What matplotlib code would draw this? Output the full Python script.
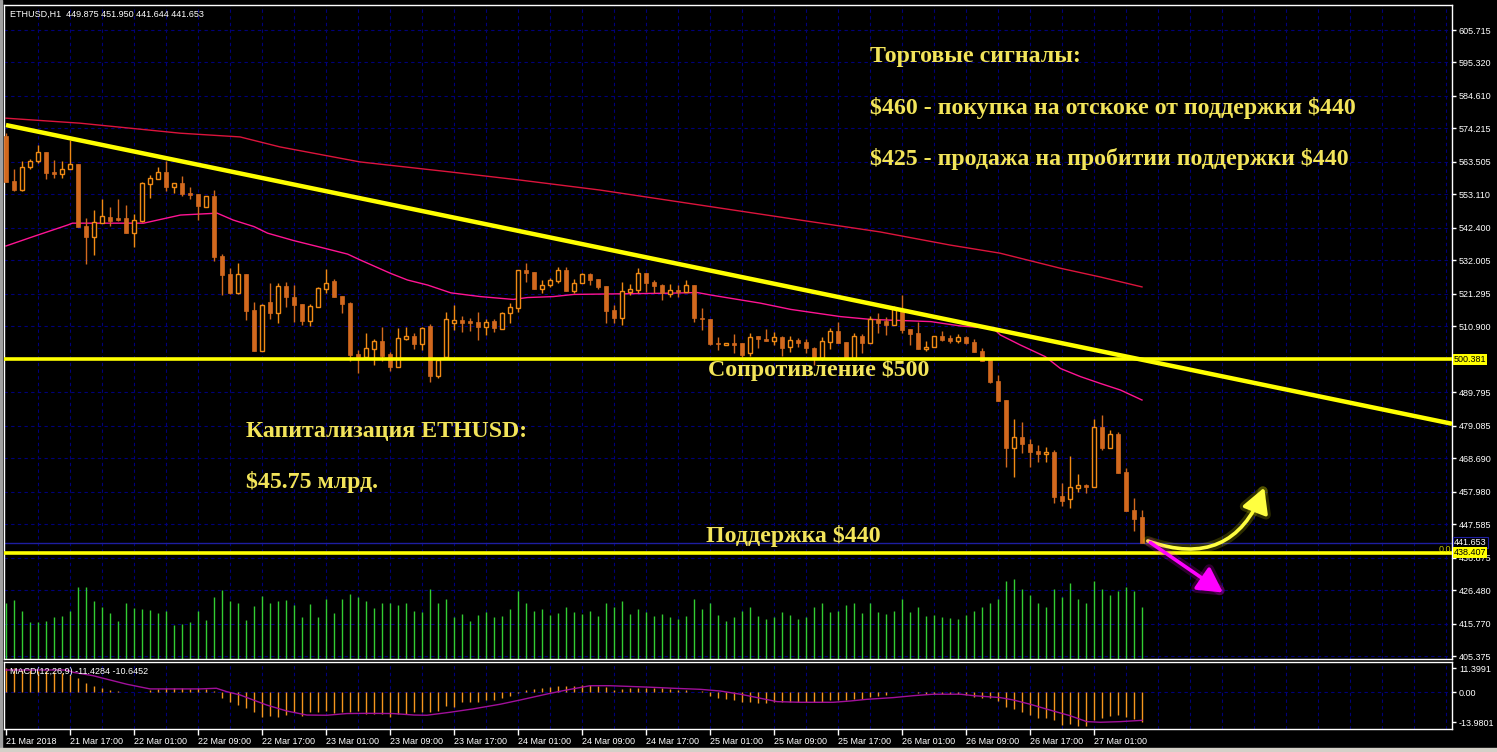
import matplotlib
matplotlib.use("Agg")
import matplotlib.pyplot as plt
import matplotlib.patheffects as pe
import numpy as np
import pandas as pd

# ---- data (ETHUSD H1, 21 Mar 09:00 .. 27 Mar 07:00) ----
opens = [571.8, 557.5, 554.5, 561.8, 563.9, 566.6, 560.3, 559.7, 561.3, 562.8,
         543.0, 539.6, 544.0, 545.9, 545.6, 545.6, 540.8, 544.7, 556.5, 558.1,
         560.2, 555.6, 556.7, 553.5, 553.2, 549.2, 552.6, 533.4, 527.6, 521.6,
         527.6, 516.1, 503.1, 518.7, 515.2, 523.8, 520.3, 518.0, 512.7, 517.2,
         522.9, 525.3, 520.6, 518.3, 502.0, 501.2, 503.7, 506.2, 502.0, 497.9,
         506.8, 507.7, 505.2, 511.0, 495.0, 501.2, 512.1, 512.9, 512.3, 512.3,
         510.8, 512.6, 510.1, 515.0, 516.9, 528.9, 528.3, 522.9, 524.2, 525.5,
         528.8, 522.3, 524.9, 527.5, 525.9, 523.8, 516.1, 513.6, 521.9, 522.5,
         527.9, 525.1, 524.0, 521.2, 522.5, 521.9, 524.1, 513.5, 513.2, 505.4,
         505.0, 505.4, 505.4, 502.2, 507.8, 506.7, 506.3, 507.4, 504.4, 506.5,
         505.9, 503.9, 500.6, 506.0, 509.5, 505.9, 500.6, 507.8, 505.6, 513.1,
         512.5, 511.3, 516.1, 509.9, 508.6, 503.5, 504.2, 507.8, 507.1, 506.3,
         507.4, 505.9, 503.1, 500.1, 493.4, 487.3, 472.1, 475.4, 473.2, 470.9,
         469.9, 470.8, 456.6, 455.5, 459.2, 460.0, 459.6, 478.6, 471.9, 476.3,
         464.2, 452.1, 449.875]
highs = [572.7, 561.2, 563.8, 564.3, 568.9, 566.6, 564.1, 563.8, 570.5, 562.8,
         545.5, 548.1, 551.6, 549.1, 551.6, 549.7, 546.8, 557.1, 559.3, 561.8,
         563.9, 556.7, 559.0, 555.4, 553.2, 552.5, 554.5, 534.0, 529.5, 531.2,
         527.6, 518.7, 517.9, 524.8, 524.7, 525.1, 524.1, 518.0, 518.0, 523.6,
         529.1, 525.9, 520.6, 518.6, 503.3, 508.7, 506.8, 510.6, 502.8, 510.4,
         510.6, 508.8, 510.8, 511.6, 500.3, 515.5, 517.7, 514.2, 513.6, 515.5,
         513.1, 513.2, 515.5, 518.2, 528.8, 531.1, 528.3, 525.7, 526.4, 529.8,
         529.8, 525.9, 528.0, 528.0, 525.9, 523.8, 517.7, 525.1, 524.4, 529.5,
         527.9, 525.7, 524.4, 524.4, 524.1, 525.7, 524.1, 516.7, 513.2, 507.4,
         505.6, 508.4, 505.6, 508.8, 507.8, 509.9, 509.1, 507.8, 507.8, 507.1,
         506.7, 504.4, 507.4, 510.2, 512.4, 505.9, 508.8, 508.4, 514.1, 515.0,
         514.0, 517.4, 520.9, 509.9, 512.4, 506.3, 507.8, 509.5, 508.1, 508.4,
         507.8, 506.9, 503.9, 500.6, 495.3, 487.3, 481.1, 480.2, 474.7, 472.9,
         472.2, 471.3, 460.7, 469.4, 463.6, 460.4, 481.1, 482.5, 477.7, 477.2,
         465.5, 455.9, 451.950]
lows = [557.1, 554.3, 554.3, 561.1, 563.2, 558.1, 558.3, 558.3, 561.3, 542.6,
        530.8, 533.7, 543.9, 543.0, 544.7, 540.8, 536.4, 544.4, 552.0, 558.1,
        554.3, 553.6, 552.6, 551.5, 544.9, 549.2, 531.9, 521.0, 521.2, 521.2,
        512.9, 503.1, 502.9, 513.3, 511.9, 517.2, 512.4, 511.4, 511.0, 517.2,
        521.6, 520.2, 515.3, 499.9, 495.9, 501.2, 498.5, 499.9, 496.7, 497.9,
        506.5, 503.7, 503.3, 493.1, 494.3, 501.0, 509.7, 509.1, 509.3, 506.5,
        508.0, 509.1, 510.1, 512.1, 515.6, 525.1, 522.9, 521.6, 523.4, 524.7,
        522.3, 521.5, 524.6, 524.2, 522.9, 512.0, 512.0, 511.4, 520.8, 521.5,
        521.9, 521.5, 519.3, 520.2, 520.4, 521.9, 512.4, 509.7, 504.9, 503.3,
        504.8, 502.2, 501.2, 501.4, 503.9, 506.3, 504.9, 501.4, 502.8, 504.4,
        502.2, 498.5, 500.1, 503.5, 505.6, 500.3, 500.1, 502.4, 505.6, 508.8,
        508.1, 511.3, 508.6, 504.9, 503.5, 503.1, 504.2, 506.3, 505.6, 505.6,
        505.2, 502.8, 499.9, 492.7, 487.1, 466.0, 462.6, 470.4, 465.8, 467.5,
        467.5, 454.3, 453.4, 452.7, 457.9, 457.6, 459.4, 471.3, 471.9, 463.9,
        451.9, 445.5, 441.644]
closes = [557.1, 554.5, 561.8, 563.9, 566.6, 560.0, 559.7, 561.1, 562.8, 542.8,
          539.6, 544.2, 546.1, 544.7, 544.9, 540.8, 544.8, 556.7, 558.2, 560.2,
          555.6, 556.7, 553.2, 552.9, 549.4, 552.5, 533.2, 527.4, 521.6, 527.6,
          515.9, 503.1, 517.7, 515.2, 523.8, 520.4, 517.8, 512.7, 517.3, 523.1,
          524.7, 520.4, 518.0, 501.7, 501.2, 503.9, 506.2, 501.5, 497.9, 507.1,
          507.7, 505.2, 510.3, 495.0, 500.1, 513.1, 512.8, 511.9, 512.1, 510.8,
          512.3, 510.3, 515.0, 517.1, 528.8, 528.0, 522.9, 524.1, 525.6, 528.8,
          522.3, 524.7, 527.6, 525.7, 523.6, 515.8, 513.6, 522.1, 522.7, 527.9,
          524.9, 523.8, 521.5, 522.5, 521.9, 524.1, 513.5, 513.1, 505.2, 505.1,
          505.4, 505.0, 501.7, 507.6, 506.7, 506.3, 507.4, 503.9, 506.5, 505.6,
          503.9, 500.3, 506.3, 509.5, 505.6, 500.6, 507.8, 505.6, 513.1, 512.0,
          511.4, 516.7, 509.7, 508.4, 503.5, 504.2, 507.8, 506.5, 506.3, 507.4,
          505.6, 502.8, 499.9, 493.2, 487.1, 472.1, 475.4, 473.1, 470.8, 469.9,
          470.8, 456.4, 455.1, 459.6, 460.0, 459.6, 478.6, 471.9, 476.3, 464.1,
          451.9, 449.3, 441.653]

# tick volume (relative units)
volumes = [560, 590, 480, 370, 370, 380, 420, 430, 480, 720,
           720, 580, 520, 460, 380, 560, 510, 500, 490, 460,
           480, 340, 350, 370, 480, 390, 620, 690, 580, 560,
           390, 530, 630, 560, 580, 590, 540, 420, 550, 420,
           600, 460, 600, 650, 620, 580, 510, 560, 560, 540,
           560, 480, 470, 700, 560, 600, 420, 450, 380, 440,
           470, 420, 430, 500, 680, 560, 480, 500, 440, 460,
           520, 470, 450, 480, 430, 560, 520, 580, 450, 500,
           470, 430, 450, 420, 400, 430, 600, 500, 560, 440,
           380, 420, 480, 520, 430, 400, 420, 470, 440, 400,
           420, 520, 560, 470, 480, 540, 560, 460, 560, 470,
           450, 480, 600, 470, 520, 430, 440, 420, 410, 400,
           440, 480, 520, 560, 600, 780, 800, 700, 640, 560,
           520, 700, 620, 760, 600, 560, 780, 700, 640, 680,
           720, 680, 520]

# MACD(12,26,9) main values (drawn as histogram)
macd_hist = [11.4, 11.3, 10.5, 10.5, 10.0, 10.0, 9.4, 8.9, 8.2, 6.9,
             4.4, 3.0, 2.0, 1.1, 0.6, 0.3, 0.3, 0.3, 1.3, 1.6,
             1.9, 1.9, 2.0, 1.6, 1.9, 1.6, 0.6, -2.5, -4.4, -6.0,
             -7.5, -9.4, -11.5, -11.0, -11.5, -10.7, -9.4, -11.0, -9.1, -9.4,
             -8.8, -9.9, -9.4, -9.1, -8.8, -10.0, -10.0, -10.4, -11.5, -10.4,
             -10.4, -9.4, -9.4, -9.1, -8.8, -6.3, -6.7, -4.7, -4.4, -4.4,
             -3.5, -3.6, -2.5, -1.6, -0.2, 1.3, 1.6, 2.2, 2.5, 3.1,
             3.0, 3.1, 3.5, 3.5, 3.1, 2.5, 1.3, 1.4, 1.9, 2.2,
             2.2, 2.2, 1.9, 1.6, 1.3, 1.3, 0.3, 0.6, -1.6, -2.5,
             -3.3, -3.8, -4.4, -4.7, -4.9, -4.9, -4.4, -4.4, -4.4, -4.4,
             -4.4, -4.4, -4.4, -3.5, -3.5, -3.8, -3.3, -3.1, -2.0, -1.6,
             -1.3, 0.0, 0.3, 0.3, -0.3, -0.9, -0.9, -0.6, -0.9, -0.9,
             -1.3, -2.2, -2.8, -2.8, -4.1, -6.7, -8.0, -9.4, -10.7, -11.9,
             -12.2, -13.0, -15.4, -15.1, -15.7, -15.7, -13.2, -11.9, -11.0, -10.7,
             -11.6, -12.5, -13.8]

# MACD signal line, sampled (bar index, value)
signal_idx = [0, 7.6, 8.4, 10.9, 13, 15.1, 16.8, 18, 24.3, 26.3, 27.6, 29.3, 30.9,
              32.6, 35.1, 37.6, 40.1, 42.6, 45.1, 48.4, 51, 52.6, 55.5, 58.4,
              61.8, 64.3, 68, 70.1, 73, 75.5, 78.4, 80.5, 83.4, 86.8, 89.3, 91.8,
              94.3, 96.4, 99.3, 103.4, 105.5, 107.6, 110.9, 113.4, 115.9, 119.3,
              121, 124.3, 125.9, 128, 130.9, 133, 135.1, 136.8, 139.3, 142]
signal_val = [10.5, 10.5, 9.4, 7.8, 5.8, 3.8, 2.5, 1.6, 1.6, 1.9, 0.3, -1.3, -3.6,
              -6.0, -8.8, -10.7, -10.8, -10.0, -9.9, -10.0, -10.7, -10.8, -9.4, -7.8,
              -5.6, -3.6, -0.5, 1.1, 3.1, 3.1, 2.7, 2.4, 1.9, 1.4, 0.6, -0.9,
              -2.8, -4.4, -4.7, -4.7, -4.1, -3.3, -2.5, -1.6, -0.9, -0.9,
              -1.6, -2.5, -3.6, -5.6, -8.8, -11.0, -13.8, -14.1, -13.8, -13.2]

# slow moving average (red), sampled
ma_slow_idx = [0, 9.25, 21.75, 29.25, 34.25, 44.25, 55.5, 64.25, 74.25, 86.75,
               99.25, 109.25, 118, 124.25, 131.75, 136.75, 142]
ma_slow_val = [577.5, 575.9, 572.7, 571.5, 568.3, 563.5, 560.3, 557.7, 554.5, 549.7,
               544.9, 541.1, 536.9, 534.3, 529.5, 526.7, 523.5]

# fast moving average (pink), sampled
ma_fast_idx = [0, 3.4, 7.7, 8.3, 17.2, 21.8, 26.4, 28.4, 31, 32.7, 36, 39.3, 42.7,
               44.3, 48.1, 50.2, 52.7, 55.6, 59.3, 63.4, 65.2, 68.4, 71, 83.1, 86.4,
               88.1, 94.3, 98.1, 104.3, 108.1, 115.6, 119.3, 123.4, 124.3, 126.8,
               129.9, 131.8, 134.3, 136.8, 139.3, 142]
ma_fast_val = [536.6, 539.6, 543.3, 543.9, 543.9, 546.5, 547.1, 544.9, 542.8, 540.7,
               538.3, 536.2, 534.0, 532.1, 527.8, 525.7, 524.1, 521.6, 520.4, 519.5,
               520.1, 520.4, 521.1, 521.5, 521.7, 520.9, 518.3, 516.3, 514.0, 513.1,
               512.4, 511.0, 510.2, 508.1, 504.9, 501.2, 497.4, 494.8, 492.6, 490.5,
               487.3]

trend_idx = [0, 180.75]
trend_val = [575.3, 479.7]
resistance = 500.381
support = 438.407
bid = 441.653

price_ticks = [605.715, 595.320, 584.610, 574.215, 563.505, 553.110, 542.400,
               532.005, 521.295, 510.900, 489.795, 479.085, 468.690, 457.980,
               447.585, 436.875, 426.480, 415.770, 405.375]
macd_ticks = [11.3991, 0.0, -13.9801]

times = pd.date_range("2018-03-21 09:00", periods=len(closes), freq="h")

BG = "black"
FG = "white"
GRID = "#00007A"
UP = "#F08A14"
DOWN = "#D2691E"
TXT_Y = "#F2E45A"
SMALL = dict(family="Liberation Sans", size=6.5, color=FG)

fig = plt.figure(figsize=(14.97, 7.52), dpi=100, facecolor=BG)
ax = fig.add_axes([4 / 1497, 1 - 659 / 752, 1448 / 1497, 654 / 752], facecolor=BG)
axm = fig.add_axes([4 / 1497, 1 - 729 / 752, 1448 / 1497, 67 / 752], facecolor=BG)

n = len(closes)
idx = np.arange(n)
xlim = (-0.25, 180.75)

for a in (ax, axm):
    a.set_xlim(*xlim)
    for s in a.spines.values():
        s.set_color(FG)
        s.set_linewidth(1)
    for gx in range(4, 181, 4):
        a.axvline(gx, color=GRID, lw=0.8, ls=(0, (3, 3)), zorder=0)

# main panel
ax.set_ylim(404.42, 613.72)
for p in price_ticks:
    ax.axhline(p, color=GRID, lw=0.8, ls=(0, (3, 3)), zorder=0)

vol_tr = ax.get_xaxis_transform()
ax.vlines(idx, 0, np.array(volumes) / 6540, transform=vol_tr, color="#32CD32", lw=1, zorder=1)

ax.plot(ma_slow_idx, ma_slow_val, color="#DC143C", lw=1, zorder=2)
ax.plot(ma_fast_idx, ma_fast_val, color="#FF1493", lw=1, zorder=2)

o = np.array(opens)
c = np.array(closes)
up = c >= o
ax.vlines(idx[up], np.array(lows)[up], np.array(highs)[up], color=UP, lw=1, zorder=3)
ax.vlines(idx[~up], np.array(lows)[~up], np.array(highs)[~up], color=DOWN, lw=1, zorder=3)
body_lo = np.minimum(o, c)
body_h = np.maximum(np.abs(c - o), 0.35)
ax.bar(idx[up], body_h[up], bottom=body_lo[up], width=0.6, color=BG, edgecolor=UP, lw=1, zorder=4)
ax.bar(idx[~up], body_h[~up], bottom=body_lo[~up], width=0.62, color=DOWN, edgecolor=DOWN, lw=0.5, zorder=4)

ax.plot(trend_idx, trend_val, color="#FFFF00", lw=3.2, zorder=5, solid_capstyle="butt")
ax.axhline(resistance, color="#FFFF00", lw=2.6, zorder=5)
ax.axhline(support, color="#FFFF00", lw=2.6, zorder=5)
ax.axhline(bid, color="#1E1EA0", lw=1, zorder=2)

ax.yaxis.tick_right()
ax.set_yticks(price_ticks)
ax.set_yticklabels([f"{p:.3f}" for p in price_ticks], **SMALL)
ax.tick_params(axis="y", colors=FG, length=3, width=1, pad=2)
ax.set_xticks([])

ytr = ax.get_yaxis_transform()
box = dict(boxstyle="square,pad=0.12", ec="none")
ax.text(1.0013, resistance, "500.381", transform=ytr, va="center", ha="left",
        bbox=dict(fc="#FFFF00", **box), family="Liberation Sans", size=6.5, color="black", zorder=10)
ax.text(1.0013, bid, "441.653", transform=ytr, va="center", ha="left",
        bbox=dict(fc="black", boxstyle="square,pad=0.12", ec="#1E1EA0", lw=0.8),
        clip_on=False, **SMALL, zorder=10)
ax.text(1.0013, support, "438.407", transform=ytr, va="center", ha="left",
        bbox=dict(fc="#FFFF00", **box), family="Liberation Sans", size=6.5, color="black", zorder=11)
ax.text(0.9995, support + 1.2, "0.0", transform=ytr, va="center", ha="right",
        family="Liberation Sans", size=6.5, color="#C8C800")

ax.text(0.004, 0.993, "ETHUSD,H1  449.875 451.950 441.644 441.653", transform=ax.transAxes,
        va="top", ha="left", **SMALL)

title_font = dict(family="Liberation Serif", weight="bold", size=17.2, color=TXT_Y,
                  va="center", ha="left", parse_math=False)
ax.text(108, 597.1, "Торговые сигналы:", **title_font)
ax.text(108, 580.7, "$460 - покупка на отскоке от поддержки $440", **title_font)
ax.text(108, 564.4, "$425 - продажа на пробитии поддержки $440", **title_font)
ax.text(30, 477.1, "Капитализация ETHUSD:", **title_font)
ax.text(30, 461.1, "$45.75 млрд.", **title_font)
ax.text(87.75, 496.9, "Сопротивление $500", **title_font)
ax.text(87.5, 443.8, "Поддержка $440", **title_font)

glow_y = [pe.Stroke(linewidth=7, foreground="#FFFF00", alpha=0.18), pe.Normal()]
glow_m = [pe.Stroke(linewidth=7, foreground="#FF00FF", alpha=0.18), pe.Normal()]
ax.annotate("", xy=(157.4, 460.1), xytext=(142.4, 442.5),
            arrowprops=dict(arrowstyle="-|>,head_length=1.0,head_width=0.55", color="#FFFF40", lw=2.6,
                            connectionstyle="arc3,rad=0.5", mutation_scale=15, path_effects=glow_y),
            zorder=8, annotation_clip=False)
ax.annotate("", xy=(152.4, 425.2), xytext=(142.75, 442.2),
            arrowprops=dict(arrowstyle="-|>,head_length=1.0,head_width=0.55", color="#FF00FF", lw=2.6,
                            mutation_scale=15, path_effects=glow_m),
            zorder=8, annotation_clip=False)

# MACD panel
axm.set_ylim(-17.27, 14.26)
axm.axhline(0, color=GRID, lw=0.8, ls=(0, (3, 3)), zorder=0)
axm.vlines(idx, 0, macd_hist, color="#F4961E", lw=1, zorder=2)
axm.plot(signal_idx, signal_val, color="#A0109A", lw=1, zorder=3)
axm.yaxis.tick_right()
axm.set_yticks(macd_ticks)
axm.set_yticklabels(["11.3991", "0.00", "-13.9801"], **SMALL)
axm.tick_params(axis="y", colors=FG, length=3, width=1, pad=2)
axm.text(0.004, 0.93, "MACD(12,26,9) -11.4284 -10.6452", transform=axm.transAxes,
         va="top", ha="left", **SMALL)

lab_idx = list(range(0, n, 8))
labels = []
for i in lab_idx:
    t = times[i]
    labels.append("21 Mar 2018" if i == 0 else f"{t.day} {t.strftime('%b')} {t.strftime('%H:%M')}")
axm.set_xticks(lab_idx)
axm.set_xticklabels(labels, ha="left", **SMALL)
axm.tick_params(axis="x", colors=FG, length=4, width=1, pad=2)

fig.patches.append(plt.Rectangle((0, 0), 2 / 1497, 1, transform=fig.transFigure, color="#A0A0A0"))
fig.patches.append(plt.Rectangle((0, 0), 1, 4 / 752, transform=fig.transFigure, color="#D4D0C8"))

fig.savefig("out.png", dpi=100, facecolor=BG)
